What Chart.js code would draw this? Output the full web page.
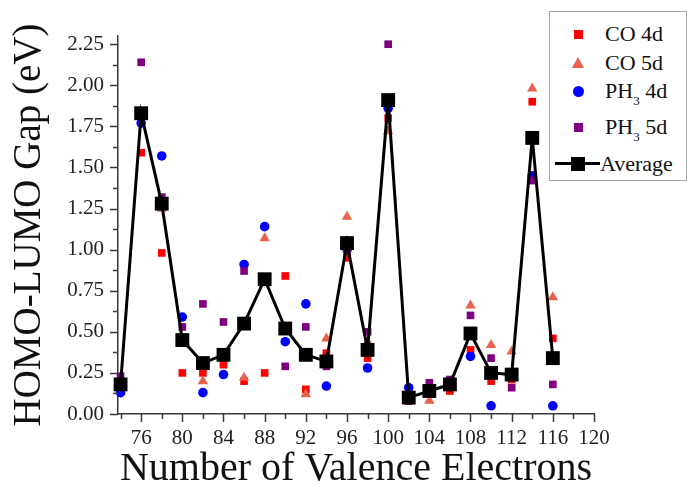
<!DOCTYPE html>
<html>
<head>
<meta charset="utf-8">
<script src="https://cdn.jsdelivr.net/npm/chart.js@4.4.1/dist/chart.umd.min.js"></script>
<style>
    body { margin: 0; background: #fff; }
    #wrap { position: relative; width: 688px; height: 487px; }
    #legend {
        position: absolute; left: 549px; top: 11px; width: 136px; height: 168px;
        border: 1px solid #a8a8a8; background: #fff;
        font-family: "Liberation Serif", "Times New Roman", serif; font-size: 22px; color: #111;
    }
    .row { position: absolute; left: 0; width: 136px; height: 24px; line-height: 24px; }
    .row .txt { position: absolute; left: 55px; top: 0; white-space: nowrap; }
    .row sub { font-size: 13px; vertical-align: -7px; line-height: 0; }
    .mk { position: absolute; }
</style>
</head>
<body>
<div id="wrap">
    <canvas id="chart" width="688" height="487"></canvas>
    <div id="legend">
        <div class="row" style="top:10px">
            <span class="mk" style="left:24px;top:8px;width:9px;height:9px;background:#ff0000"></span>
            <span class="txt">CO 4d</span>
        </div>
        <div class="row" style="top:39px">
            <span class="mk" style="left:22px;top:6px;width:0;height:0;border-left:6.5px solid transparent;border-right:6.5px solid transparent;border-bottom:11px solid #e9604b"></span>
            <span class="txt">CO 5d</span>
        </div>
        <div class="row" style="top:67px">
            <span class="mk" style="left:23px;top:7px;width:11px;height:11px;border-radius:50%;background:#0000ff"></span>
            <span class="txt">PH<sub>3</sub> 4d</span>
        </div>
        <div class="row" style="top:103px">
            <span class="mk" style="left:24px;top:8px;width:9px;height:9px;background:#800080"></span>
            <span class="txt">PH<sub>3</sub> 5d</span>
        </div>
        <div class="row" style="top:140px">
            <span class="mk" style="left:5px;top:10px;width:45px;height:3px;background:#000"></span>
            <span class="mk" style="left:21px;top:5px;width:14px;height:14px;background:#000"></span>
            <span class="txt" style="left:50px">Average</span>
        </div>
    </div>
</div>
<script>
// number of valence electrons for each complex
const electrons = [74, 76, 78, 80, 82, 84, 86, 88, 90, 92, 94, 96, 98, 100, 102, 104, 106, 108, 110, 112, 114, 116];

// HOMO-LUMO gaps (eV)
const co4d   = [0.18, 1.59, 0.98, 0.25, 0.25, 0.30, 0.20, 0.25, 0.84, 0.15, 0.37, 0.95, 0.34, 1.80, 0.08, 0.15, 0.14, 0.39, 0.20, 0.21, 1.90, 0.46];
const co5d   = [0.18, 1.81, 1.25, 0.44, 0.20, 0.35, 0.22, 1.07, 0.50, 0.12, 0.46, 1.20, 0.44, 1.72, 0.08, 0.08, 0.18, 0.66, 0.42, 0.38, 1.98, 0.71];
const ph3_4d = [0.13, 1.77, 1.57, 0.59, 0.13, 0.24, 0.91, 1.14, 0.44, 0.67, 0.17, 1.00, 0.28, 1.86, 0.16, 0.15, 0.18, 0.35, 0.05, 0.23, 1.45, 0.05];
const ph3_5d = [0.23, 2.14, 1.32, 0.53, 0.67, 0.56, 0.87, 0.82, 0.29, 0.53, 0.29, 1.00, 0.50, 2.25, 0.08, 0.19, 0.21, 0.60, 0.34, 0.16, 1.42, 0.18];
const average = [0.18, 1.83, 1.28, 0.45, 0.31, 0.36, 0.55, 0.82, 0.52, 0.36, 0.32, 1.04, 0.39, 1.91, 0.10, 0.14, 0.18, 0.49, 0.25, 0.24, 1.68, 0.34];

// axis ticks
const xLabelTicks = [76, 80, 84, 88, 92, 96, 100, 104, 108, 112, 116, 120];
const xMinorTicks = [74, 78, 82, 86, 90, 94, 98, 102, 106, 110, 114, 118];
const yLabelTicks = [0, 0.25, 0.5, 0.75, 1.0, 1.25, 1.5, 1.75, 2.0, 2.25];

const SERIF = '"Liberation Serif", "Times New Roman", serif';
const AXIS_COLOR = '#3a3a3a';

function points(values) {
    return values.map((v, i) => ({ x: electrons[i], y: v }));
}

// draws outward tick marks, long for labelled values and short in between
const tickMarks = {
    id: 'tickMarks',
    afterDraw(chart) {
        const ctx = chart.ctx;
        const xs = chart.scales.x;
        const ys = chart.scales.y;
        const area = chart.chartArea;
        ctx.save();
        ctx.strokeStyle = AXIS_COLOR;
        ctx.lineWidth = 1.5;
        ctx.beginPath();
        xLabelTicks.forEach(v => {
            const px = Math.round(xs.getPixelForValue(v)) + 0.5;
            ctx.moveTo(px, area.bottom); ctx.lineTo(px, area.bottom + 8);
        });
        xMinorTicks.forEach(v => {
            const px = Math.round(xs.getPixelForValue(v)) + 0.5;
            ctx.moveTo(px, area.bottom); ctx.lineTo(px, area.bottom + 5);
        });
        yLabelTicks.forEach(v => {
            const py = Math.round(ys.getPixelForValue(v)) + 0.5;
            ctx.moveTo(area.left - 8, py); ctx.lineTo(area.left, py);
            const pm = Math.round(ys.getPixelForValue(v + 0.125)) + 0.5;
            if (v + 0.125 < ys.max) {
                ctx.moveTo(area.left - 5, pm); ctx.lineTo(area.left, pm);
            }
        });
        ctx.stroke();
        ctx.restore();
    }
};

const ctx = document.getElementById('chart').getContext('2d');

new Chart(ctx, {
    type: 'scatter',
    data: {
        datasets: [
            {
                label: 'Average',
                data: points(average),
                showLine: true,
                borderColor: '#000',
                backgroundColor: '#000',
                borderWidth: 3,
                pointStyle: 'rect',
                pointRadius: 9.8,
                pointBorderWidth: 0,
                order: 0
            },
            {
                label: 'PH3 5d',
                data: points(ph3_5d),
                backgroundColor: '#800080',
                borderColor: '#800080',
                pointStyle: 'rect',
                pointRadius: 5.4,
                pointBorderWidth: 0,
                order: 1
            },
            {
                label: 'PH3 4d',
                data: points(ph3_4d),
                backgroundColor: '#0000ff',
                borderColor: '#0000ff',
                pointStyle: 'circle',
                pointRadius: 4.8,
                pointBorderWidth: 0,
                order: 2
            },
            {
                label: 'CO 5d',
                data: points(co5d),
                backgroundColor: '#e9604b',
                borderColor: '#e9604b',
                pointStyle: 'triangle',
                pointRadius: 6,
                pointBorderWidth: 0,
                order: 3
            },
            {
                label: 'CO 4d',
                data: points(co4d),
                backgroundColor: '#ff0000',
                borderColor: '#ff0000',
                pointStyle: 'rect',
                pointRadius: 5.4,
                pointBorderWidth: 0,
                order: 4
            }
        ]
    },
    options: {
        responsive: false,
        animation: false,
        clip: false,
        layout: { padding: { top: 36, right: 94, left: 0, bottom: 0 } },
        plugins: {
            legend: { display: false },
            tooltip: { enabled: false }
        },
        scales: {
            x: {
                type: 'linear',
                min: 73.75,
                max: 120,
                afterFit(scale) { scale.height = 73; },
                afterBuildTicks(scale) { scale.ticks = xLabelTicks.map(v => ({ value: v })); },
                grid: { display: false, drawTicks: false },
                border: { display: true, color: AXIS_COLOR, width: 1.5 },
                ticks: {
                    padding: 12,
                    maxRotation: 0,
                    autoSkip: false,
                    color: '#222',
                    font: { family: SERIF, size: 21 }
                },
                title: {
                    display: true,
                    text: 'Number of Valence Electrons',
                    color: '#111',
                    font: { family: SERIF, size: 40, lineHeight: 0.9 },
                    padding: { top: 0, bottom: 0 }
                }
            },
            y: {
                min: 0,
                max: 2.3,
                afterFit(scale) { scale.width = 118; },
                afterBuildTicks(scale) { scale.ticks = yLabelTicks.map(v => ({ value: v })); },
                grid: { display: false, drawTicks: false },
                border: { display: true, color: AXIS_COLOR, width: 1.5 },
                ticks: {
                    padding: 14,
                    autoSkip: false,
                    color: '#222',
                    font: { family: SERIF, size: 21 },
                    callback: v => v.toFixed(2)
                },
                title: {
                    display: true,
                    text: 'HOMO-LUMO Gap (eV)',
                    color: '#111',
                    font: { family: SERIF, size: 39 },
                    padding: { top: 6, bottom: 0 }
                }
            }
        }
    },
    plugins: [tickMarks]
});
</script>
</body>
</html>
